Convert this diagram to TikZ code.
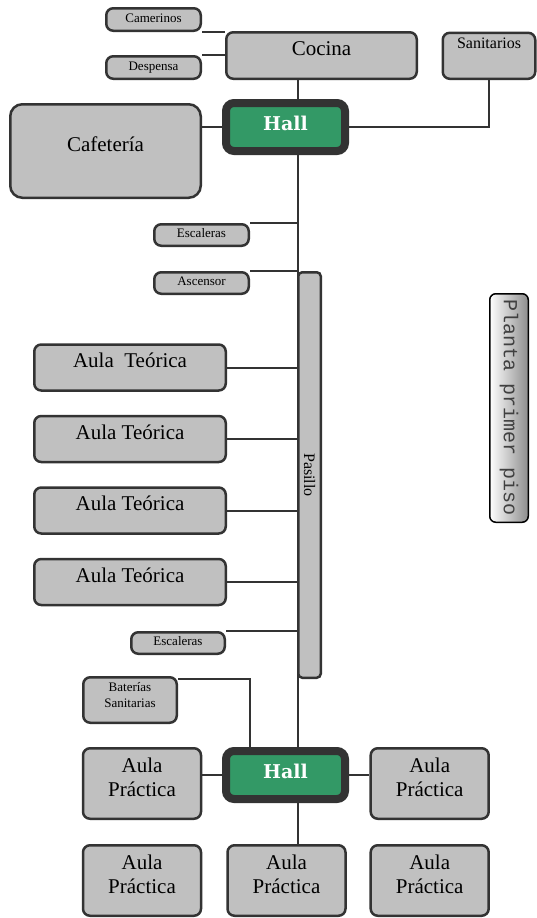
\documentclass[tikz,border=0pt]{standalone}
\usepackage{fontspec}
\setmainfont{Liberation Serif}
\newfontfamily\hallfont{DejaVu Serif}
\newfontfamily\plantafont{Liberation Mono}
\usetikzlibrary{positioning}
\definecolor{roomgray}{HTML}{C0C0C0}
\definecolor{edgegray}{HTML}{333333}
\definecolor{hallgreen}{HTML}{339966}
\tikzset{
    room/.style={draw=edgegray, fill=roomgray, line width=2.5pt, rounded corners=7pt, inner sep=0pt, align=center},
    smallroom/.style={room, font=\fontsize{13}{16}\selectfont, text height=9pt, text depth=4pt},
    bigroom/.style={room, font=\fontsize{21}{24}\selectfont, text height=15pt, text depth=15pt},
    practica/.style={room, font=\fontsize{21}{24}\selectfont, minimum width=118pt, minimum height=70.5pt, text height=39pt, text depth=14pt},
    hall/.style={draw=edgegray, fill=hallgreen, line width=8pt, rounded corners=8pt, minimum width=119pt, minimum height=48pt, text=white, text depth=7pt, font=\hallfont\bfseries\fontsize{19}{22}\selectfont},
    link/.style={draw=edgegray, line width=2pt}
}

\begin{document}
\begin{tikzpicture}[x=1pt, y=-1pt]
    \useasboundingbox (0,0) rectangle (537,918);
    \coordinate (spine) at (297.5,0);
    \coordinate (drop) at (250,0);

    % cocina, cafeteria y hall de arriba
    \node (cocina) [bigroom, minimum width=190.5pt, minimum height=46.5pt] at (321.5,55.5) {Cocina};
    \node (camerinos) [smallroom, minimum width=94.5pt, minimum height=22.5pt] at (153.5,19.5) {Camerinos};
    \node (despensa) [smallroom, minimum width=94.5pt, minimum height=22.5pt] at (153.5,67.5) {Despensa};
    \node (sanit) [room, font=\fontsize{16}{18}\selectfont, text height=12pt, text depth=26pt, minimum width=92.5pt, minimum height=46pt] at (489,55.8) {Sanitarios};
    \node (cafe) [bigroom, rounded corners=12pt, minimum width=190.5pt, minimum height=93.5pt] at (105.5,151) {Cafetería};
    \node (hallA) [hall] at (285.5,127) {Hall};

    % pasillo y aulas teoricas
    \node (esc1) [smallroom, minimum width=94.5pt, minimum height=21.5pt] at (201.5,235) {Escaleras};
    \node (asc) [smallroom, minimum width=94.5pt, minimum height=21.5pt, below=24pt of esc1] {Ascensor};
    \node (pasillo) [room, rotate=-90, rounded corners=4pt, font=\fontsize{16}{18}\selectfont, minimum width=405.5pt, minimum height=22.5pt] at (309.5,475) {Pasillo};
    \node (teo1) [bigroom, minimum width=191.5pt, minimum height=46pt] at (130,367.5) {Aula\ \ Teórica};
    \node (teo2) [bigroom, minimum width=191.5pt, minimum height=46pt, below=23pt of teo1] {Aula Teórica};
    \node (teo3) [bigroom, minimum width=191.5pt, minimum height=46pt, below=23pt of teo2] {Aula Teórica};
    \node (teo4) [bigroom, minimum width=191.5pt, minimum height=46pt, below=23pt of teo3] {Aula Teórica};
    \node (esc2) [smallroom, minimum width=93.5pt, minimum height=21.5pt] at (178,643) {Escaleras};
    \node (bat) [room, font=\fontsize{13}{16}\selectfont, text height=26pt, text depth=12pt, minimum width=93.5pt, minimum height=45.5pt] at (130,700) {Baterías\\Sanitarias};

    % hall de abajo y aulas practicas
    \node (hallB) [hall] at (285.5,775) {Hall};
    \node (pracA) [practica] at (142,783.5) {Aula\\Práctica};
    \node (pracB) [practica] at (429.7,783.5) {Aula\\Práctica};
    \node (pracC) [practica, below=24pt of pracA] {Aula\\Práctica};
    \node (pracD) [practica, right=24pt of pracC] {Aula\\Práctica};
    \node (pracE) [practica, below=24pt of pracB] {Aula\\Práctica};

    \node (planta) [draw=black, line width=1.5pt, rounded corners=6pt, left color=white, right color=black!45, inner sep=0pt, minimum width=38.5pt, minimum height=228.5pt, text=black!75, font=\plantafont\fontsize{20}{22}\selectfont] at (509,408) {\rotatebox{-90}{Planta primer piso}};

    % uniones
    \draw [link] (camerinos.south east) -- (camerinos.south east -| cocina.west);
    \draw [link] (despensa.north east) -- (despensa.north east -| cocina.west);
    \draw [link] (cocina.south -| spine) -- (hallA.north -| spine);
    \draw [link] (hallA.west) -- (hallA.west -| cafe.east);
    \draw [link] (hallA.east) -| (sanit.south);
    \draw [link] (hallA.south -| spine) -- (hallB.north -| spine);
    \draw [link] (esc1.north east) -- (esc1.north east -| spine);
    \draw [link] (asc.north east) -- (asc.north east -| spine);
    \foreach \t in {teo1,teo2,teo3,teo4}
        \draw [link] (\t.east) -- (\t.east -| spine);
    \draw [link] (esc2.north east) -- (esc2.north east -| spine);
    \draw [link] ([yshift=-2.5pt]bat.north east) -| (drop |- hallB.north);
    \draw [link] (hallB.west) -- (hallB.west -| pracA.east);
    \draw [link] (hallB.east) -- (hallB.east -| pracB.west);
    \draw [link] (hallB.south -| spine) -- (pracD.north -| spine);
\end{tikzpicture}
\end{document}
